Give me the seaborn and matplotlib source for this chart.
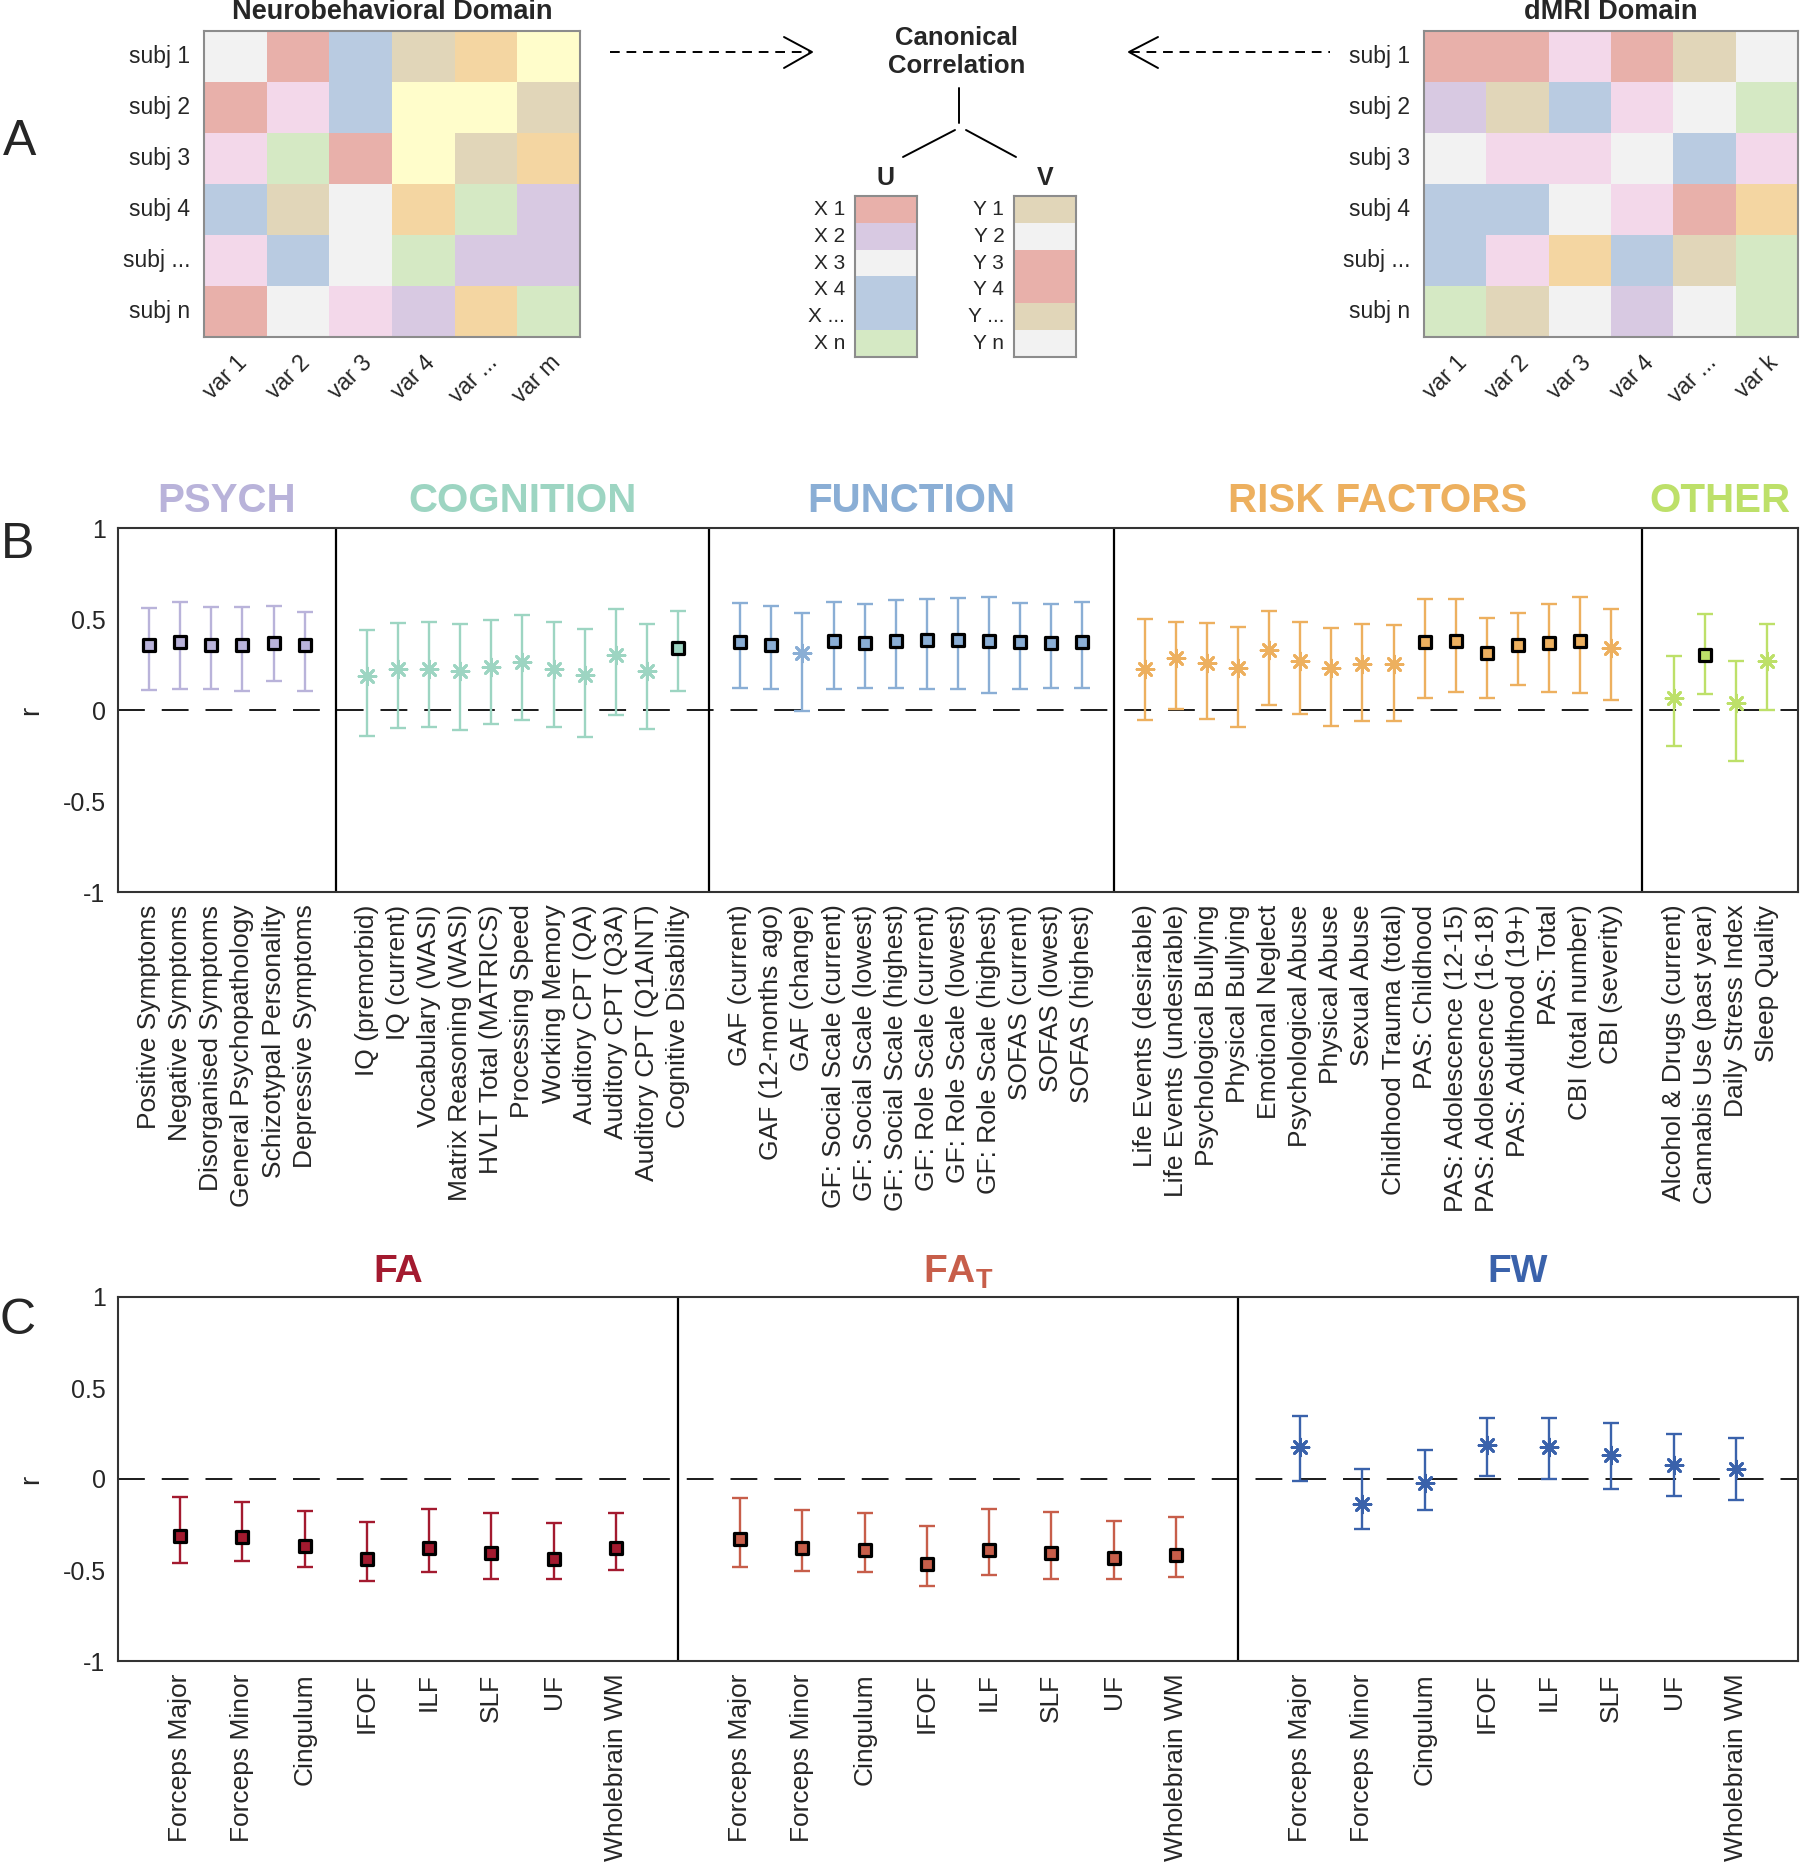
import numpy as np
import pandas as pd
import seaborn as sns
import matplotlib.pyplot as plt
from matplotlib.colors import ListedColormap

sns.set_theme(style='white')
plt.rcParams['font.family'] = ['Liberation Sans', 'DejaVu Sans']
plt.rcParams['mathtext.fontset'] = 'custom'
plt.rcParams['mathtext.bf'] = 'Liberation Sans:bold'
plt.rcParams['mathtext.rm'] = 'Liberation Sans'

# ---------------- panel A (schematic) ----------------
pastel_names = ['grey', 'red', 'blue', 'tan', 'orange', 'yellow', 'pink', 'green', 'purple']
pastel_hex = ['#f2f2f2', '#e8b0aa', '#b9cbe1', '#e1d6b9', '#f4d6a2', '#fffdcb',
              '#f3d8ea', '#d5e9c4', '#d8c9e2']

subj_labels = ['subj 1', 'subj 2', 'subj 3', 'subj 4', 'subj ...', 'subj n']
neuro_vars = ['var 1', 'var 2', 'var 3', 'var 4', 'var ...', 'var m']
dmri_vars = ['var 1', 'var 2', 'var 3', 'var 4', 'var ...', 'var k']

neuro_cells = [
    ['grey', 'red', 'blue', 'tan', 'orange', 'yellow'],
    ['red', 'pink', 'blue', 'yellow', 'yellow', 'tan'],
    ['pink', 'green', 'red', 'yellow', 'tan', 'orange'],
    ['blue', 'tan', 'grey', 'orange', 'green', 'purple'],
    ['pink', 'blue', 'grey', 'green', 'purple', 'purple'],
    ['red', 'grey', 'pink', 'purple', 'orange', 'green'],
]
dmri_cells = [
    ['red', 'red', 'pink', 'red', 'tan', 'grey'],
    ['purple', 'tan', 'blue', 'pink', 'grey', 'green'],
    ['grey', 'pink', 'pink', 'grey', 'blue', 'pink'],
    ['blue', 'blue', 'grey', 'pink', 'red', 'orange'],
    ['blue', 'pink', 'orange', 'blue', 'tan', 'green'],
    ['green', 'tan', 'grey', 'purple', 'grey', 'green'],
]
u_labels = ['X 1', 'X 2', 'X 3', 'X 4', 'X ...', 'X n']
u_cells = ['red', 'purple', 'grey', 'blue', 'blue', 'green']
v_labels = ['Y 1', 'Y 2', 'Y 3', 'Y 4', 'Y ...', 'Y n']
v_cells = ['tan', 'grey', 'red', 'red', 'tan', 'grey']

# ---------------- panel B data ----------------
psych_items = ['Positive Symptoms', 'Negative Symptoms', 'Disorganised Symptoms',
               'General Psychopathology', 'Schizotypal Personality', 'Depressive Symptoms']
psych_r = [0.355, 0.373, 0.359, 0.359, 0.370, 0.359]
psych_lo = [0.109, 0.118, 0.118, 0.102, 0.157, 0.106]
psych_hi = [0.563, 0.594, 0.568, 0.568, 0.572, 0.541]
psych_sig = [1, 1, 1, 1, 1, 1]

cog_items = ['IQ (premorbid)', 'IQ (current)', 'Vocabulary (WASI)', 'Matrix Reasoning (WASI)',
             'HVLT Total (MATRICS)', 'Processing Speed', 'Working Memory', 'Auditory CPT (QA)',
             'Auditory CPT (Q3A)', 'Auditory CPT (Q1AINT)', 'Cognitive Disability']
cog_r = [0.186, 0.224, 0.224, 0.217, 0.235, 0.264, 0.228, 0.195, 0.301, 0.217, 0.341]
cog_lo = [-0.144, -0.098, -0.095, -0.111, -0.078, -0.053, -0.095, -0.146, -0.026, -0.102, 0.106]
cog_hi = [0.441, 0.477, 0.481, 0.470, 0.492, 0.523, 0.481, 0.444, 0.556, 0.470, 0.543]
cog_sig = [0, 0, 0, 0, 0, 0, 0, 0, 0, 0, 1]

func_items = ['GAF (current)', 'GAF (12-months ago)', 'GAF (change)',
              'GF: Social Scale (current)', 'GF: Social Scale (lowest)', 'GF: Social Scale (highest)',
              'GF: Role Scale (current)', 'GF: Role Scale (lowest)', 'GF: Role Scale (highest)',
              'SOFAS (current)', 'SOFAS (lowest)', 'SOFAS (highest)']
func_r = [0.373, 0.357, 0.311, 0.377, 0.370, 0.381, 0.384, 0.383, 0.381, 0.373, 0.368, 0.373]
func_lo = [0.120, 0.113, -0.004, 0.118, 0.120, 0.122, 0.117, 0.113, 0.091, 0.118, 0.122, 0.120]
func_hi = [0.588, 0.570, 0.532, 0.596, 0.585, 0.603, 0.612, 0.614, 0.623, 0.588, 0.581, 0.594]
func_sig = [1, 1, 0, 1, 1, 1, 1, 1, 1, 1, 1, 1]

risk_items = ['Life Events (desirable)', 'Life Events (undesirable)', 'Psychological Bullying',
              'Physical Bullying', 'Emotional Neglect', 'Psychological Abuse', 'Physical Abuse',
              'Sexual Abuse', 'Childhood Trauma (total)', 'PAS: Childhood', 'PAS: Adolescence (12-15)',
              'PAS: Adolescence (16-18)', 'PAS: Adulthood (19+)', 'PAS: Total', 'CBI (total number)',
              'CBI (severity)']
risk_r = [0.228, 0.286, 0.257, 0.231, 0.328, 0.271, 0.231, 0.253, 0.253,
          0.372, 0.381, 0.313, 0.355, 0.368, 0.381, 0.341]
risk_lo = [-0.055, 0.005, -0.051, -0.093, 0.029, -0.022, -0.086, -0.060, -0.058,
           0.067, 0.097, 0.067, 0.135, 0.098, 0.091, 0.053]
risk_hi = [0.501, 0.483, 0.477, 0.454, 0.545, 0.481, 0.450, 0.475, 0.468,
           0.608, 0.612, 0.505, 0.534, 0.581, 0.621, 0.557]
risk_sig = [0, 0, 0, 0, 0, 0, 0, 0, 0, 1, 1, 1, 1, 1, 1, 0]

other_items = ['Alcohol & Drugs (current)', 'Cannabis Use (past year)', 'Daily Stress Index', 'Sleep Quality']
other_r = [0.064, 0.301, 0.040, 0.271]
other_lo = [-0.199, 0.086, -0.279, 0.0]
other_hi = [0.295, 0.526, 0.271, 0.470]
other_sig = [0, 1, 0, 0]

# ---------------- panel C data ----------------
tracts = ['Forceps Major', 'Forceps Minor', 'Cingulum', 'IFOF', 'ILF', 'SLF', 'UF', 'Wholebrain WM']
fa_r = [-0.311, -0.316, -0.366, -0.441, -0.380, -0.406, -0.439, -0.380]
fa_lo = [-0.461, -0.453, -0.486, -0.561, -0.512, -0.547, -0.550, -0.501]
fa_hi = [-0.099, -0.128, -0.174, -0.239, -0.165, -0.186, -0.243, -0.186]
fa_sig = [1] * 8
fat_r = [-0.329, -0.378, -0.388, -0.466, -0.389, -0.406, -0.433, -0.419]
fat_lo = [-0.481, -0.508, -0.510, -0.590, -0.527, -0.548, -0.552, -0.536]
fat_hi = [-0.106, -0.172, -0.186, -0.256, -0.166, -0.179, -0.229, -0.208]
fat_sig = [1] * 8
fw_r = [0.177, -0.139, -0.020, 0.186, 0.175, 0.132, 0.075, 0.053]
fw_lo = [-0.009, -0.276, -0.170, 0.016, 0.002, -0.053, -0.091, -0.117]
fw_hi = [0.347, 0.055, 0.159, 0.336, 0.333, 0.309, 0.249, 0.225]
fw_sig = [0] * 8

groups_b = [
    ('PSYCH', '#b9b3da', psych_items, psych_r, psych_lo, psych_hi, psych_sig),
    ('COGNITION', '#9dd5c2', cog_items, cog_r, cog_lo, cog_hi, cog_sig),
    ('FUNCTION', '#8aaed5', func_items, func_r, func_lo, func_hi, func_sig),
    ('RISK FACTORS', '#edb05f', risk_items, risk_r, risk_lo, risk_hi, risk_sig),
    ('OTHER', '#bde069', other_items, other_r, other_lo, other_hi, other_sig),
]
groups_c = [
    ('FA', '#a31a2f', tracts, fa_r, fa_lo, fa_hi, fa_sig),
    (r'$\mathbf{FA}_{\mathbf{T}}$', '#c75e4a', tracts, fat_r, fat_lo, fat_hi, fat_sig),
    ('FW', '#3a62ab', tracts, fw_r, fw_lo, fw_hi, fw_sig),
]


def build(groups):
    rows = []
    pos = 0
    dividers = []
    for gname, color, items, r, lo, hi, sig in groups:
        for k in range(len(items)):
            pos += 1
            rows.append(dict(group=gname, color=color, item=items[k], x=pos,
                             r=r[k], lo=lo[k], hi=hi[k], sig=bool(sig[k])))
        pos += 1
        dividers.append(pos)
    return pd.DataFrame(rows), dividers


W, H = 1800, 1867
fig = plt.figure(figsize=(W / 100, H / 100), dpi=100)

# overlay in pixel coordinates for the diagram parts
ov = fig.add_axes([0, 0, 1, 1])
ov.set_xlim(0, W)
ov.set_ylim(H, 0)
ov.axis('off')


def px_axes(x0, y0, x1, y1):
    return fig.add_axes([x0 / W, (H - y1) / H, (x1 - x0) / W, (y1 - y0) / H])


cmap = ListedColormap(pastel_hex)


def codes(cells):
    return np.array([[pastel_names.index(c) for c in row] for row in cells])


def schematic_heatmap(ax, cells, xlabels, ylabels, title):
    sns.heatmap(codes(cells), cmap=cmap, vmin=-0.5, vmax=len(pastel_hex) - 0.5, cbar=False,
                xticklabels=xlabels, yticklabels=ylabels, ax=ax)
    ax.set_yticklabels(ylabels, rotation=0, fontsize=16.5)
    ax.set_xticklabels(xlabels, rotation=45, ha='right', rotation_mode='anchor', fontsize=16.5)
    ax.tick_params(length=0, pad=10)
    for s in ax.spines.values():
        s.set_visible(True)
        s.set_color('#8c8c8c')
        s.set_linewidth(1.5)
    ax.text(0.5, 1.0 + 19 / 306, title, transform=ax.transAxes, ha='center', va='center',
            fontsize=19.5, fontweight='bold')


ax_n = px_axes(204, 31, 580, 337)
schematic_heatmap(ax_n, neuro_cells, neuro_vars, subj_labels, 'Neurobehavioral Domain')
ax_d = px_axes(1424, 31, 1798, 337)
schematic_heatmap(ax_d, dmri_cells, dmri_vars, subj_labels, 'dMRI Domain')


def vector_bar(ax, cells, labels, name):
    sns.heatmap(codes([[c] for c in cells]), cmap=cmap, vmin=-0.5, vmax=len(pastel_hex) - 0.5,
                cbar=False, xticklabels=False, yticklabels=labels, ax=ax)
    ax.set_yticklabels(labels, rotation=0, fontsize=15)
    ax.tick_params(length=0, pad=7)
    for s in ax.spines.values():
        s.set_visible(True)
        s.set_color('#8c8c8c')
        s.set_linewidth(1.5)
    ax.text(0.5, 1.0 + 18 / 161, name, transform=ax.transAxes, ha='center', va='center',
            fontsize=18, fontweight='bold')


vector_bar(px_axes(855, 196, 917, 357), u_cells, u_labels, 'U')
vector_bar(px_axes(1014, 196, 1076, 357), v_cells, v_labels, 'V')

ov.text(957, 52, 'Canonical\nCorrelation', ha='center', va='center', fontsize=18.5,
        fontweight='bold', linespacing=1.25)
lk = dict(color='black', lw=1.4)
ov.plot([959, 959], [88, 123], **lk)
ov.plot([955, 903], [130, 157], **lk)
ov.plot([966, 1016], [130, 157], **lk)
# dashed arrows
ov.plot([610, 810], [52, 52], color='black', lw=1.4, dashes=(5, 3.5))
ov.plot([784, 812, 784], [37, 52, 68], **lk)
ov.plot([1130, 1330], [52, 52], color='black', lw=1.4, dashes=(5, 3.5))
ov.plot([1158, 1129, 1158], [37, 52, 68], **lk)

for lab, (x, y) in {'A': (20, 142), 'B': (18, 545), 'C': (18, 1321)}.items():
    ov.text(x, y, lab, ha='center', va='center', fontsize=36)


# ---------------- panels B / C ----------------
def draw_panel(ax, groups, title_y, title_size):
    df, dividers = build(groups)
    ax.axhline(0, color='#1a1a1a', lw=1.4, dashes=(13.8, 8.7), zorder=1)
    for d in dividers[:-1]:
        ax.axvline(d, color='black', lw=1.6, zorder=2)
    for gname, g in df.groupby('group', sort=False):
        c = g['color'].iloc[0]
        ax.errorbar(g['x'], g['r'], yerr=[g['r'] - g['lo'], g['hi'] - g['r']], fmt='none',
                    ecolor=c, elinewidth=1.7, capsize=5.6, capthick=1.7, zorder=3)
        sig = g[g['sig']]
        ns = g[~g['sig']]
        if len(sig):
            sns.scatterplot(data=sig, x='x', y='r', marker='s', s=85, color=c, edgecolor='black',
                            linewidth=2.3, ax=ax, zorder=4, legend=False)
        if len(ns):
            # MATLAB-style '*' : eight-armed asterisk
            sns.scatterplot(data=ns, x='x', y='r', marker=(8, 2, 0), s=150, color=c,
                            linewidth=2.0, ax=ax, zorder=4, legend=False)
        ax.text(g['x'].mean(), title_y, gname, transform=ax.get_xaxis_transform(),
                ha='center', va='center', fontsize=title_size, fontweight='bold', color=c)
    ax.set_xlim(0, dividers[-1])
    ax.set_ylim(-1, 1)
    ax.set_xticks(df['x'])
    ax.set_xticklabels(df['item'], rotation=90, fontsize=19)
    ax.set_yticks([-1, -0.5, 0, 0.5, 1])
    ax.set_yticklabels(['-1', '-0.5', '0', '0.5', '1'], fontsize=18)
    ax.tick_params(length=0, pad=9)
    ax.set_xlabel('')
    ax.set_ylabel('r', fontsize=20)
    ax.yaxis.set_label_coords(-0.044, 0.5)
    for s in ax.spines.values():
        s.set_color('#333333')
        s.set_linewidth(1.5)


ax_b = px_axes(118, 528, 1798, 892)
draw_panel(ax_b, groups_b, 1.073, 29)
ax_c = px_axes(118, 1297, 1798, 1661)
draw_panel(ax_c, groups_c, 1.069, 28)

fig.savefig('out.png', dpi=100)
